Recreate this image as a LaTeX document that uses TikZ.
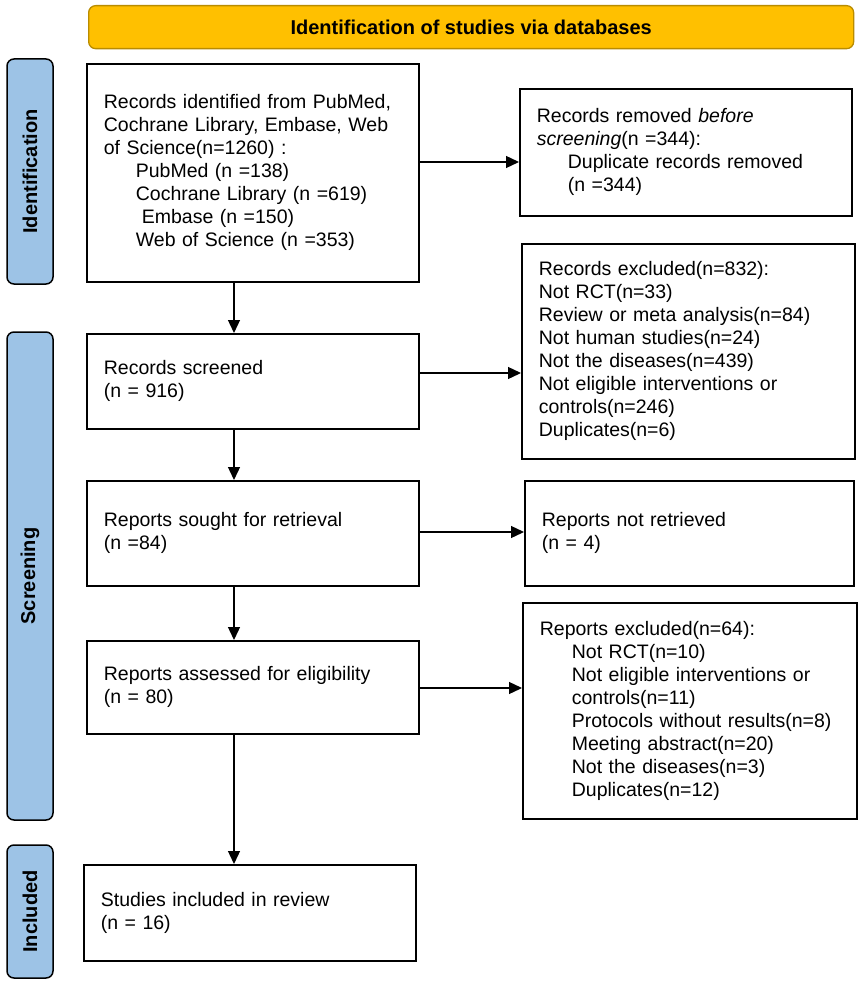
\documentclass[tikz,border=0pt]{standalone}
\usepackage{fontspec}
\setmainfont{Liberation Sans}
\usetikzlibrary{arrows.meta}
\definecolor{gold}{HTML}{FFC000}
\definecolor{goldline}{HTML}{B98C00}
\definecolor{sideblue}{HTML}{9DC3E6}
\newcommand{\fs}{\fontsize{19.5}{23}\selectfont}
\newcommand{\ind}{\hspace*{32pt}}
\begin{document}
\begin{tikzpicture}[x=1pt,y=-1pt,
  box/.style={draw, line width=1.7pt, anchor=north west, align=left, inner xsep=17pt, inner ysep=0pt, font=\fs},
  side/.style={draw, line width=1.5pt, fill=sideblue, rounded corners=7pt, rotate=90, font=\fontsize{20}{24}\selectfont\bfseries, minimum height=46pt, inner sep=0pt},
  arr/.style={line width=1.3pt, -{Triangle[length=13pt,width=12pt]}}]
\useasboundingbox (0,0) rectangle (858,984);
\fill[white] (0,0) rectangle (858,984);
% banner
\node[draw=goldline, line width=1.3pt, fill=gold, rounded corners=7pt, minimum width=765pt, minimum height=43pt, font=\fontsize{20}{24}\selectfont\bfseries, anchor=north west] (ban) at (88,5) {Identification of studies via databases};
% side labels
\node[side, minimum width=225pt] (sid) at (30,171.5) {Identification};
\node[side, minimum width=488pt] (sscr) at (30,576) {Screening};
\node[side, minimum width=133pt] (sinc) at (30,911.5) {Included};
% boxes
\node[box, text width=298pt, minimum height=218pt] (b1) at (86,63) {Records identified from PubMed,\\Cochrane Library, Embase, Web\\of Science(n=1260) :\\\ind PubMed (n =138)\\\ind Cochrane~Library~(n~=619)\\\ind\hspace*{6pt}Embase (n =150)\\\ind Web~of~Science~(n~=353)};
\node[box, text width=298pt, minimum height=127pt] (b2) at (519,88) {Records removed \textit{before}\\\textit{screening}(n =344):\\\hspace*{31pt}Duplicate~records~removed\\\hspace*{31pt}(n =344)};
\node[box, text width=298pt, minimum height=95pt] (b3) at (86,333) {Records screened\\(n = 916)};
\node[box, text width=299pt, minimum height=215pt] (b4) at (521,243) {Records excluded(n=832):\\Not RCT(n=33)\\Review~or~meta~analysis(n=84)\\Not human studies(n=24)\\Not the diseases(n=439)\\Not~eligible~interventions~or\\controls(n=246)\\Duplicates(n=6)};
\node[box, text width=298pt, minimum height=105pt] (b5) at (86,480) {Reports~sought~for~retrieval\\(n =84)};
\node[box, text width=295pt, minimum height=105pt] (b6) at (524,480) {Reports not retrieved\\(n = 4)};
\node[box, text width=298pt, minimum height=93pt] (b7) at (86,640) {Reports~assessed~for~eligibility\\(n = 80)};
\node[box, text width=300pt, minimum height=216pt] (b8) at (522,602) {Reports excluded(n=64):\\\ind Not RCT(n=10)\\\ind Not~eligible~interventions~or\\\ind controls(n=11)\\\ind Protocols~without~results(n=8)\\\ind Meeting~abstract(n=20)\\\ind Not the diseases(n=3)\\\ind Duplicates(n=12)};
\node[box, text width=298pt, minimum height=96pt] (b9) at (83,864) {Studies~included~in~review\\(n = 16)};
% connector guides
\coordinate (col) at (234,0);
\coordinate (h1) at (0,162);
\coordinate (h2) at (0,373);
\coordinate (h3) at (0,532);
\coordinate (h4) at (0,688);
% vertical arrows
\draw[arr] (b1.south -| col) -- (b3.north -| col);
\draw[arr] (b3.south -| col) -- (b5.north -| col);
\draw[arr] (b5.south -| col) -- (b7.north -| col);
\draw[arr] (b7.south -| col) -- (b9.north -| col);
% horizontal arrows
\draw[arr] (b1.east |- h1) -- (b2.west |- h1);
\draw[arr] (b3.east |- h2) -- (b4.west |- h2);
\draw[arr] (b5.east |- h3) -- (b6.west |- h3);
\draw[arr] (b7.east |- h4) -- (b8.west |- h4);
\end{tikzpicture}
\end{document}
